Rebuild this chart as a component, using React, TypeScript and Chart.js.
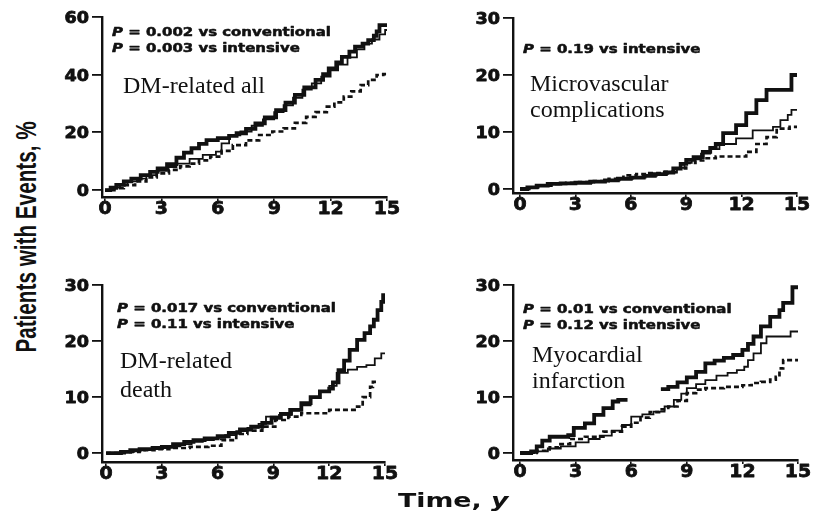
import React, { useEffect, useRef } from "react";
import { Chart, registerables } from "chart.js";
Chart.register(...registerables);

// ---------- data ----------
const xTicks = [0, 3, 6, 9, 12, 15];
const yTicks60 = [0, 20, 40, 60];
const yTicks30 = [0, 10, 20, 30];

// [time (y), patients with events (%)] — Kaplan-Meier style steps
const allThick = [[0,0],[0.3,0.8],[0.6,1.8],[1.0,3.0],[1.4,4.0],[1.9,5.2],[2.4,6.3],[2.8,7.5],[3.3,9.0],[3.8,11.2],[4.2,13.0],[4.6,14.5],[5.0,16.0],[5.4,17.3],[6.0,18.0],[6.6,18.8],[7.0,19.7],[7.5,21.2],[8.0,23.1],[8.5,25.2],[9.1,27.7],[9.6,30.3],[10.1,33.0],[10.6,35.6],[11.2,38.2],[11.6,40.2],[11.9,42.2],[12.3,44.3],[12.6,46.2],[13.0,48.0],[13.3,49.7],[13.7,50.8],[14.0,52.0],[14.3,53.5],[14.45,55.0],[14.6,57.2],[15,57.2]];
const allThin = [[0,0],[0.4,0.9],[0.8,2.0],[1.2,3.0],[1.7,4.0],[2.2,5.2],[2.75,6.7],[3.3,8.0],[3.8,9.2],[4.5,10.8],[5.2,12.2],[5.9,13.3],[6.2,16.2],[6.6,19.0],[7.2,20.3],[7.8,22.3],[8.4,24.5],[9.0,27.0],[9.5,29.4],[10.0,32.0],[10.5,34.8],[11.0,37.0],[11.5,39.3],[12.0,41.5],[12.4,43.5],[12.9,46.0],[13.4,48.8],[13.8,50.8],[14.2,52.2],[14.6,54.0],[14.9,55.5],[15,55.5]];
const allDashed = [[0,0],[0.5,0.7],[1.0,1.7],[1.6,3.0],[2.2,4.4],[2.75,5.8],[3.4,7.0],[4.0,8.2],[4.5,9.2],[5.0,10.3],[5.6,11.6],[6.2,13.6],[6.8,15.6],[7.5,17.2],[8.2,19.1],[8.9,20.3],[9.5,21.4],[10.1,23.3],[10.7,25.4],[11.2,27.0],[11.8,28.9],[12.2,30.4],[12.7,32.4],[13.1,34.2],[13.6,36.4],[14.0,38.2],[14.45,39.9],[14.8,40.2],[15,40.2]];

const microThick = [[0,0],[0.4,0.3],[0.9,0.6],[1.5,0.9],[2.2,1.0],[3.0,1.1],[3.8,1.3],[4.6,1.5],[5.3,1.8],[6.0,2.0],[6.7,2.3],[7.3,2.6],[7.9,2.9],[8.3,3.6],[8.7,4.4],[9.0,5.1],[9.4,5.6],[9.9,6.5],[10.3,7.2],[10.6,7.9],[11.0,9.8],[11.7,11.2],[12.25,13.3],[12.8,15.6],[13.35,17.4],[14.7,20.0],[15,20.0]];
const microThin = [[0,0],[0.5,0.3],[1.0,0.6],[1.6,0.9],[2.3,1.0],[3.0,1.1],[3.9,1.3],[4.7,1.5],[5.4,1.8],[6.1,2.0],[6.8,2.3],[7.4,2.6],[8.0,2.9],[8.5,3.7],[8.9,4.6],[9.3,5.2],[9.8,6.2],[10.3,7.0],[10.8,7.9],[11.7,8.9],[12.6,10.3],[13.7,10.9],[14.1,12.1],[14.5,13.0],[14.7,13.9],[15,13.9]];
const microDashed = [[0,0],[0.5,0.3],[1.1,0.6],[1.7,0.9],[2.5,1.1],[3.2,1.2],[4.0,1.4],[4.8,1.8],[5.6,2.4],[6.3,2.6],[7.0,2.8],[7.7,3.0],[8.4,3.6],[9.0,4.6],[9.5,5.0],[10.0,5.4],[10.6,5.7],[12.25,6.5],[12.8,7.9],[13.35,9.1],[13.9,10.6],[14.6,10.9],[15,10.9]];

const deathThick = [[0,0],[0.8,0.2],[1.3,0.5],[1.8,0.7],[2.5,0.9],[3.0,1.1],[3.6,1.6],[4.2,2.0],[4.7,2.3],[5.3,2.6],[6.0,3.0],[6.6,3.6],[7.2,4.2],[7.8,4.7],[8.4,5.4],[8.9,6.3],[9.4,7.0],[9.9,7.7],[10.5,8.9],[11.0,10.0],[11.5,11.0],[12.0,11.5],[12.2,12.6],[12.5,14.8],[12.8,16.5],[13.1,18.4],[13.5,20.2],[13.9,21.4],[14.2,22.6],[14.4,23.8],[14.6,25.5],[14.8,27.0],[14.9,28.2],[15,28.2]];
const deathThin = [[0,0],[0.9,0.2],[1.5,0.5],[2.1,0.7],[2.8,0.9],[3.4,1.2],[4.0,1.6],[4.6,2.0],[5.2,2.3],[5.8,2.7],[6.4,3.2],[7.0,3.9],[7.6,4.5],[8.2,5.2],[8.6,6.5],[9.3,6.8],[10.0,7.6],[10.5,8.5],[11.0,9.8],[11.5,11.0],[12.0,12.0],[12.4,14.3],[13.0,14.9],[13.5,15.4],[14.0,15.7],[14.45,16.9],[14.8,17.8],[15,17.8]];
const deathDashed = [[0,0],[1.0,0.2],[1.8,0.5],[2.6,0.7],[3.4,0.9],[4.5,1.1],[5.5,1.3],[6.2,2.3],[7.0,3.4],[7.6,4.0],[8.4,4.7],[9.1,5.9],[9.8,6.5],[10.5,7.1],[12.0,7.7],[13.5,8.3],[13.8,10.0],[14.2,11.8],[14.35,12.7],[14.55,12.7]];

const miThick = [[0,0],[0.6,0.3],[0.9,1.2],[1.2,2.2],[1.6,2.9],[2.6,3.2],[2.9,4.5],[3.5,5.3],[4.0,6.8],[4.5,8.0],[5.0,9.2],[5.3,9.5],[5.8,9.5],[6.7,null],[7.6,11.4],[8.0,11.8],[8.5,12.6],[9.0,13.5],[9.5,14.5],[10.0,16.0],[10.5,16.5],[11.0,17.0],[11.5,17.5],[12.0,18.4],[12.3,19.5],[12.6,20.8],[13.0,22.6],[13.5,24.3],[14.0,25.5],[14.2,26.8],[14.7,29.6],[15,29.6]];
const miThin = [[0,0],[0.8,0.3],[1.5,0.8],[2.2,1.2],[3.0,1.9],[3.7,2.5],[4.3,3.1],[4.95,4.0],[5.5,5.0],[6.0,6.5],[6.6,6.9],[7.2,7.4],[7.8,8.3],[8.3,9.5],[8.7,10.6],[9.0,11.6],[9.5,12.3],[10.0,13.0],[10.6,13.8],[11.2,14.3],[11.7,14.8],[12.1,15.4],[12.3,16.6],[12.6,17.8],[13.0,19.6],[13.3,20.8],[14.6,21.7],[15,21.7]];
const miDashed = [[0,0],[0.9,0.4],[1.6,1.0],[2.1,1.6],[2.7,2.5],[3.5,2.9],[4.5,3.8],[5.5,4.7],[6.0,5.4],[6.5,6.3],[7.0,7.3],[7.5,7.8],[8.0,8.3],[8.5,9.3],[9.0,10.7],[9.5,11.3],[10.0,11.6],[11.0,11.8],[12.0,12.1],[12.5,12.5],[13.0,12.7],[13.5,13.1],[13.8,13.6],[14.0,15.1],[14.2,16.6],[15,16.6]];

const allPText = ["0.002 vs conventional", "0.003 vs intensive"];
const microPText = ["0.19 vs intensive"];
const deathPText = ["0.017 vs conventional", "0.11 vs intensive"];
const miPText = ["0.01 vs conventional", "0.12 vs intensive"];

const allLabel = ["DM-related all"];
const microLabel = ["Microvascular", "complications"];
const deathLabel = ["DM-related", "death"];
const miLabel = ["Myocardial", "infarction"];

const yTitle = "Patients with Events, %";
const xTitleMain = "Time, ";
const xTitleUnit = "y";

// ---------- layout / style ----------
type Panel = {
  left: number; top: number; width: number; height: number;
  padTop: number; padRight: number; yAxisW: number; xAxisH: number;
  xMin: number; yMin: number; yMax: number; yTicks: number[];
  series: (number | null)[][][];
  pText: string[]; pX: number; pY: number;
  label: string[]; lX: number; lY: number; lDy: number;
};

const panels: Panel[] = [
  { left: 50, top: 0, width: 360, height: 225, padTop: 17, padRight: 23, yAxisW: 52, xAxisH: 28,
    xMin: -0.16, yMin: -2.4, yMax: 60, yTicks: yTicks60, series: [allThick, allThin, allDashed],
    pText: allPText, pX: 112, pY: 36, label: allLabel, lX: 123, lY: 93, lDy: 27 },
  { left: 460, top: 0, width: 358, height: 225, padTop: 18, padRight: 21, yAxisW: 53, xAxisH: 32,
    xMin: -0.38, yMin: -0.7, yMax: 30, yTicks: yTicks30, series: [microThick, microThin, microDashed],
    pText: microPText, pX: 523, pY: 53, label: microLabel, lX: 530, lY: 91, lDy: 26 },
  { left: 50, top: 260, width: 360, height: 230, padTop: 25, padRight: 25, yAxisW: 52, xAxisH: 28,
    xMin: -0.22, yMin: -1.6, yMax: 30, yTicks: yTicks30, series: [deathThick, deathThin, deathDashed],
    pText: deathPText, pX: 117, pY: 312, label: deathLabel, lX: 120, lY: 368, lDy: 29 },
  { left: 460, top: 260, width: 358, height: 230, padTop: 25, padRight: 20, yAxisW: 53, xAxisH: 30,
    xMin: -0.38, yMin: -1.25, yMax: 30, yTicks: yTicks30, series: [miThick, miThin, miDashed],
    pText: miPText, pX: 523, pY: 313, label: miLabel, lX: 532, lY: 362, lDy: 26 },
];

const lineStyles = [
  { borderWidth: 3.8, borderDash: [] as number[] },
  { borderWidth: 1.8, borderDash: [] as number[] },
  { borderWidth: 2.7, borderDash: [5, 3] },
];

const INK = "#111";

function drawScaled(ctx: CanvasRenderingContext2D, text: string, x: number, y: number, sx: number, align: CanvasTextAlign, stroke: number) {
  ctx.save();
  ctx.translate(x, y);
  ctx.scale(sx, 1);
  ctx.textAlign = align;
  ctx.fillText(text, 0, 0);
  if (stroke > 0) {
    ctx.lineWidth = stroke;
    ctx.strokeText(text, 0, 0);
  }
  ctx.restore();
}

function drawPanelText(chart: any, p: Panel) {
  const ctx: CanvasRenderingContext2D = chart.ctx;
  ctx.save();
  ctx.fillStyle = INK;
  ctx.strokeStyle = INK;
  ctx.lineJoin = "round";
  ctx.textBaseline = "alphabetic";
  // x tick labels
  const xs = chart.scales.x;
  ctx.font = 'bold 18px "DejaVu Sans"';
  xs.ticks.forEach((tk: any, i: number) => {
    drawScaled(ctx, String(tk.value), xs.getPixelForTick(i), xs.top + 17, 1.05, "center", 0.8);
  });
  // y tick labels
  const ys = chart.scales.y;
  ctx.font = 'bold 16px "DejaVu Sans"';
  ys.ticks.forEach((tk: any, i: number) => {
    drawScaled(ctx, String(tk.value), ys.right - 13, ys.getPixelForTick(i) + 6, 1.1, "right", 0.8);
  });
  // P-value lines
  p.pText.forEach((line, i) => {
    const x = p.pX - p.left;
    const y = p.pY - p.top + i * 16;
    ctx.save();
    ctx.translate(x, y);
    ctx.scale(1.3, 1);
    ctx.textAlign = "left";
    ctx.lineWidth = 0.5;
    ctx.font = 'italic bold 11.5px "DejaVu Sans"';
    ctx.fillText("P", 0, 0);
    ctx.strokeText("P", 0, 0);
    const w = ctx.measureText("P").width;
    ctx.font = 'bold 11.5px "DejaVu Sans"';
    ctx.fillText(" = " + line, w, 0);
    ctx.strokeText(" = " + line, w, 0);
    ctx.restore();
  });
  // panel labels
  ctx.font = '24px "Liberation Serif"';
  ctx.textAlign = "left";
  p.label.forEach((line, i) => {
    ctx.fillText(line, p.lX - p.left, p.lY - p.top + i * p.lDy);
  });
  ctx.restore();
}

function PanelChart({ p }: { p: Panel }) {
  const ref = useRef<HTMLCanvasElement>(null);
  useEffect(() => {
    if (!ref.current) return;
    const chart = new Chart(ref.current, {
      type: "line",
      data: {
        datasets: p.series.map((s, i) => ({
          data: s.map((pt) => ({ x: pt[0] as number, y: pt[1] as number | null })),
          borderColor: INK,
          borderWidth: lineStyles[i].borderWidth,
          borderDash: lineStyles[i].borderDash,
          stepped: true,
          pointRadius: 0,
          fill: false,
          spanGaps: false,
          order: i === 0 ? 0 : 1,
        })),
      },
      options: {
        animation: false,
        responsive: false,
        events: [],
        layout: { padding: { top: p.padTop, right: p.padRight, left: 0, bottom: 0 } },
        plugins: { legend: { display: false }, tooltip: { enabled: false } },
        scales: {
          x: {
            type: "linear",
            min: p.xMin,
            max: 15,
            afterBuildTicks: (s: any) => { s.ticks = xTicks.map((v) => ({ value: v })); },
            afterFit: (s: any) => { s.height = p.xAxisH; },
            ticks: { display: false },
            grid: { drawOnChartArea: false, drawTicks: true, tickLength: 4, color: INK, lineWidth: 1.6 },
            border: { display: true, color: INK, width: 2.4 },
          },
          y: {
            type: "linear",
            min: p.yMin,
            max: p.yMax,
            afterBuildTicks: (s: any) => { s.ticks = p.yTicks.map((v) => ({ value: v })); },
            afterFit: (s: any) => { s.width = p.yAxisW; },
            ticks: { display: false },
            grid: { drawOnChartArea: false, drawTicks: true, tickLength: 10, color: INK, lineWidth: 1.8 },
            border: { display: true, color: INK, width: 2.4 },
          },
        },
      },
      plugins: [{ id: "panelText", afterDraw: (c: any) => drawPanelText(c, p) }],
    } as any);
    return () => chart.destroy();
  }, [p]);
  return (
    <canvas
      ref={ref}
      width={p.width}
      height={p.height}
      style={{ position: "absolute", left: p.left, top: p.top, width: p.width, height: p.height }}
    />
  );
}

export default function App() {
  return (
    <div style={{ position: "fixed", left: 0, top: 0, width: 818, height: 515, background: "#fff", overflow: "hidden" }}>
      {panels.map((p, i) => (
        <PanelChart key={i} p={p} />
      ))}
      <div
        style={{
          position: "absolute", left: 26, top: 237,
          transform: "translate(-50%, -50%) rotate(-90deg) scaleX(0.69)",
          font: 'bold 30px "Liberation Sans"', lineHeight: 1, whiteSpace: "nowrap", color: INK,
        }}
      >
        {yTitle}
      </div>
      <div
        style={{
          position: "absolute", left: 398, top: 491,
          transform: "scaleX(1.41)", transformOrigin: "left top",
          font: 'bold 19px "DejaVu Sans"', lineHeight: 1, whiteSpace: "nowrap", color: INK,
        }}
      >
        {xTitleMain}
        <i>{xTitleUnit}</i>
      </div>
    </div>
  );
}
